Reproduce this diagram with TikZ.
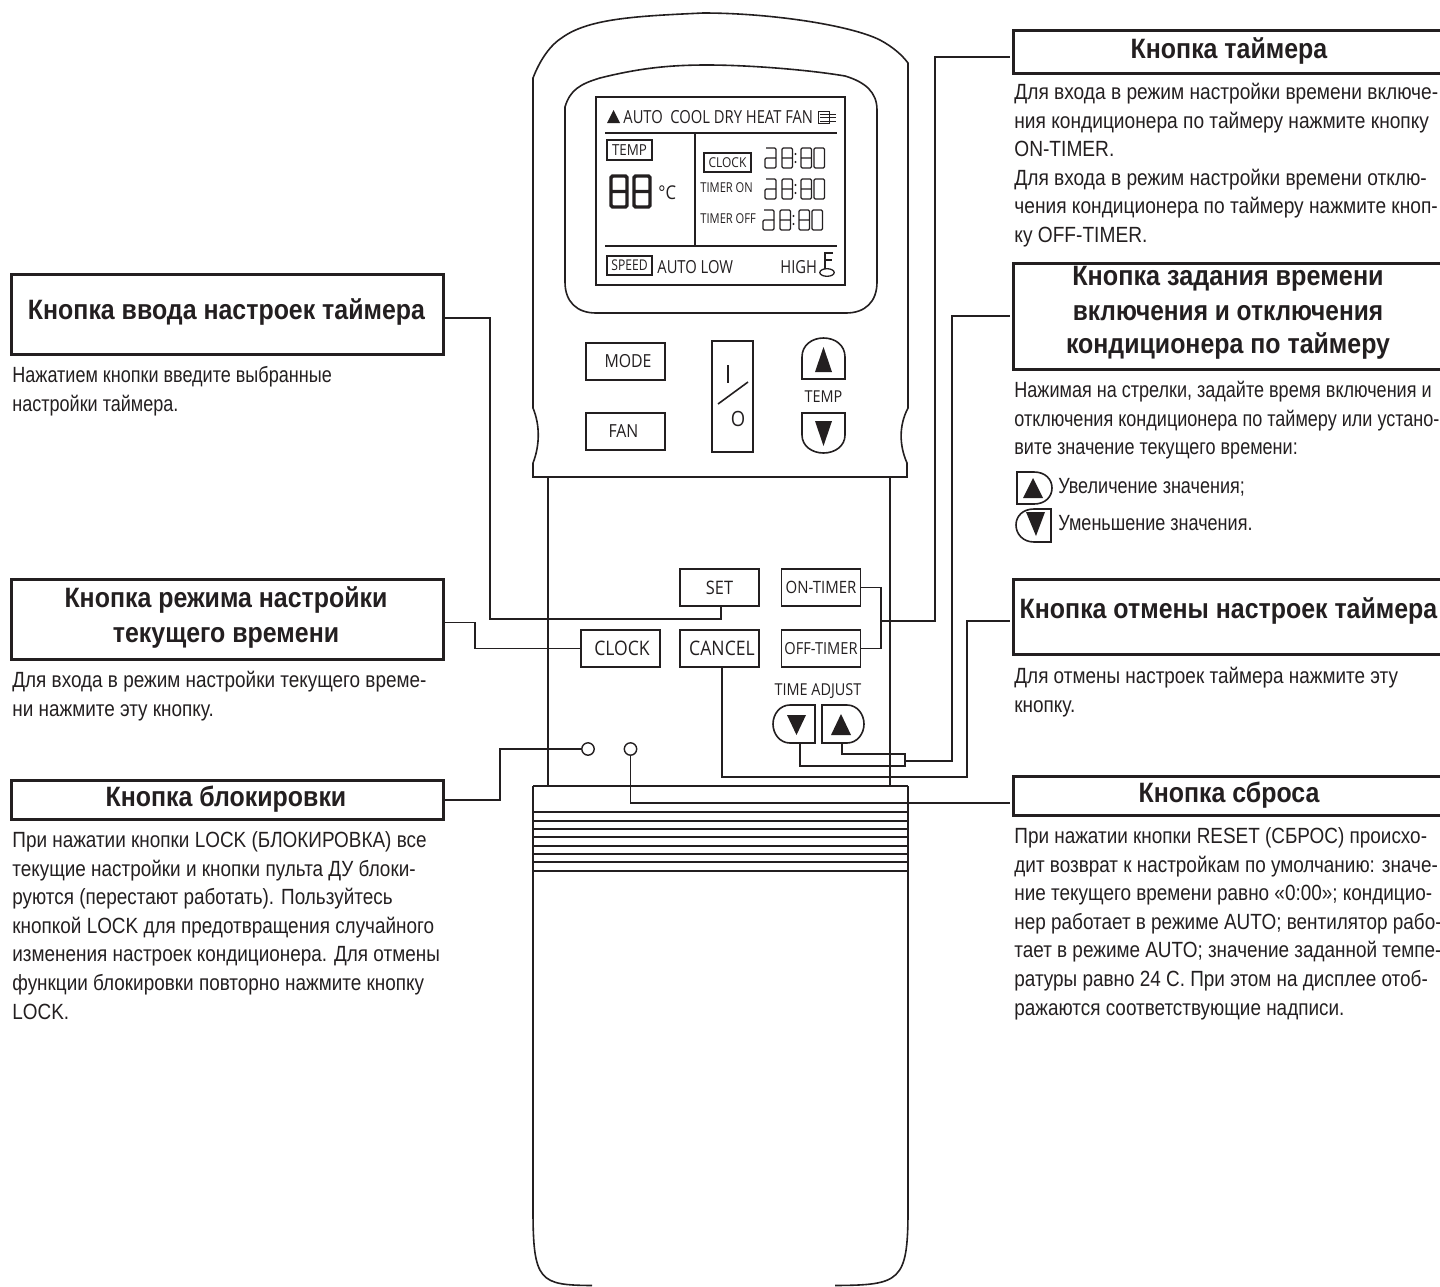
\documentclass[tikz,border=0pt]{standalone}
\usepackage{fontspec}
\setmainfont[FakeStretch=0.86]{Liberation Sans}
\newfontfamily\bodyA[FakeStretch=0.82]{Liberation Sans}
\newfontfamily\bodyB[FakeStretch=0.86]{Liberation Sans}
\newfontfamily\bodyC[FakeStretch=0.87]{Liberation Sans}
\newfontfamily\ttlf[FakeStretch=0.89]{Liberation Sans}
\newfontfamily\ttlw[FakeStretch=0.9]{Liberation Sans}
\newfontfamily\ttln[FakeStretch=0.875]{Liberation Sans}
\newfontfamily\rfont[FakeStretch=0.88]{Open Sans}
\newfontfamily\rcond[FakeStretch=0.82]{Open Sans}
\usetikzlibrary{calc}
\definecolor{ink}{HTML}{231F20}
\newcommand\fl{\rule{0pt}{10pt}}
\newcommand\rsz[1]{\rfont\fontsize{#1}{#1}\selectfont}
\newcommand\csz[1]{\rcond\fontsize{#1}{#1}\selectfont}
\newcommand\bsz{\fontsize{11}{14.3}\selectfont}
\tikzset{
  hbox/.style={draw=ink,line width=1.3pt,fill=white,inner sep=0pt,rectangle},
  ttl/.style={anchor=base,inner sep=0pt,text=ink,font=\ttlf\fontsize{14}{17.5}\selectfont\bfseries},
  ttw/.style={ttl,font=\ttlw\fontsize{14}{17.5}\selectfont\bfseries},
  ttn/.style={ttl,font=\ttln\fontsize{14}{17.5}\selectfont\bfseries},
  bodytxt/.style={anchor=north west,inner sep=0pt,align=left,text=ink,font=\bodyB\bsz},
  bodya/.style={bodytxt,font=\bodyA\bsz},
  bodyc/.style={bodytxt,font=\bodyC\bsz},
  wire/.style={draw=ink,line width=0.8pt},
  outl/.style={draw=ink,line width=0.8pt},
  btn/.style={draw=ink,line width=0.75pt,inner sep=0pt,rectangle,minimum width=39.5pt,minimum height=18.5pt,text=ink,font=\rsz{9}},
  rtxt/.style={inner sep=0pt,text=ink,font=\rsz{8.2}},
  lcdbox/.style={draw=ink,line width=0.6pt,inner sep=0pt,rectangle,text=ink},
  seg/.style={draw=ink,line width=0.6pt,rounded corners=0.6pt},
  segb/.style={draw=ink,line width=1.7pt,rounded corners=0.8pt},
  tri/.style={fill=ink,draw=none},
}
\newcommand\dE[2]{\draw[seg] (#1,#2) rectangle ++(10.5,20) (#1,#2+10) -- ++(10.5,0);}
\newcommand\dO[2]{\draw[seg] (#1,#2) rectangle ++(10.5,20);}
\newcommand\dA[2]{\draw[seg] (#1+1,#2) -- (#1+11,#2) -- (#1+11,#2+20) -- (#1,#2+20) -- (#1,#2+10) -- (#1+11,#2+10);}
\newcommand\dC[2]{\fill[ink] (#1,#2+6) circle (0.55pt) (#1,#2+14) circle (0.55pt);}
\newcommand\timerow[2]{\dA{#1}{#2}\dE{#1+17}{#2}\dC{#1+30.5}{#2}\dE{#1+36}{#2}\dO{#1+49}{#2}}
\begin{document}
\begin{tikzpicture}[x=0.5pt,y=-0.5pt]
\useasboundingbox (0,0) rectangle (1440,1286);
% ---- remote outline
\draw[outl] (533,477) -- (533,463) .. controls (540,445) and (540,425) .. (533,408) -- (533,78)
  .. controls (540,60) and (550,45) .. (563,37) .. controls (590,18) and (640,16) .. (703,13)
  .. controls (770,13) and (850,25) .. (880,40) .. controls (893,47) and (902,55) .. (908,63)
  -- (908,408) .. controls (899,425) and (899,445) .. (907,463) -- (907,477) -- cycle;
\draw[outl] (565,107) .. controls (570,90) and (580,84) .. (600,78) .. controls (640,68) and (670,65) .. (707,65)
  .. controls (750,65) and (810,70) .. (845,76) .. controls (865,82) and (877,92) .. (877,110)
  -- (877,282) .. controls (877,302) and (865,313) .. (846,313) -- (596,313)
  .. controls (577,313) and (565,302) .. (565,282) -- cycle;
\draw[outl] (548,477) -- (548,786) (890,477) -- (890,786);
\draw[outl] (533,786) -- (908,786);
\draw[outl] (592,1285.5) .. controls (540,1285) and (533,1282) .. (533,1210) -- (533,786);
\draw[outl] (835,1285.5) .. controls (900,1285) and (908,1282) .. (908,1210) -- (908,786);
\foreach \yy in {812,821,829,837,846,854,862,871} \draw[outl] (533,\yy) -- (908,\yy);
% ---- LCD
\draw[outl] (596,97) rectangle (845,285);
\draw[outl] (605,133) -- (837,133) (605,246) -- (837,246) (695,133) -- (695,246);
\fill[tri] (607,123) -- (613.5,110) -- (620,123) -- cycle;
\node[rtxt,anchor=base west,font=\csz{9}] (lauto) at (623,123) {AUTO};
\node[rtxt,anchor=base west,font=\csz{9}] (lmodes) at (670,123) {COOL DRY HEAT FAN};
\draw[ink,line width=0.45pt] (818,111) rectangle (829,123.5);
\draw[ink,line width=0.45pt] (820,114) -- (836,114) (820,117.5) -- (836,117.5) (820,121) -- (836,121);
\node[lcdbox,minimum width=22.5pt,minimum height=10pt,font=\rsz{7.6}] (ltemp) at (629.5,150) {TEMP};
\node[lcdbox,minimum width=23.5pt,minimum height=9.5pt,font=\rsz{6.8}] (lclock) at (727.5,162.5) {CLOCK};
\node[lcdbox,minimum width=22.5pt,minimum height=9.5pt,font=\csz{7.4}] (lspeed) at (629.5,265.5) {SPEED};
\draw[segb] (611,176) rectangle (627,207) (611,191.5) -- (627,191.5);
\draw[segb] (634,176) rectangle (650,207) (634,191.5) -- (650,191.5);
\node[rtxt,anchor=west,font=\rsz{9.5}] (ldeg) at (658,193) {°C};
\timerow{765}{148}
\timerow{765}{179}
\timerow{763}{210}
\node[rtxt,anchor=west,font=\csz{6.8}] (lon) at (700,188) {TIMER ON};
\node[rtxt,anchor=west,font=\csz{6.8}] (loff) at (700,219) {TIMER OFF};
\node[rtxt,anchor=base west,font=\csz{9}] (lal) at (657,273) {AUTO LOW};
\node[rtxt,anchor=base west,font=\csz{9}] (lhigh) at (780,273) {HIGH};
\draw[ink,line width=0.65pt] (833,253) -- (825,253) -- (825,269) (825,260) -- (832,260);
\draw[ink,line width=0.65pt] (827,272.5) ellipse (3.6pt and 1.9pt);
% ---- upper buttons
\node[btn] (mode) at (625.5,361.5) {\hspace*{2.5pt}MODE};
\node[btn] (fan) at (625.5,431.5) {\hspace*{-2pt}\raisebox{-1pt}{FAN}};
\draw[outl] (712,341) rectangle (753,452);
\draw[ink,line width=1.3pt] (728,365) -- (728,383);
\draw[outl] (718,404) -- (748,382);
\node[rtxt,font=\rsz{10.5}] (oo) at (738,419) {O};
\draw[outl] (802,379) -- (802,357) .. controls (802,345) and (812,338) .. (823.5,338) .. controls (835,338) and (845,345) .. (845,357) -- (845,379) -- cycle;
\fill[tri] (815,372) -- (823.5,347) -- (832,372) -- cycle;
\node[rtxt] (ltmp) at (823.5,397) {TEMP};
\draw[outl] (802,413) -- (802,435) .. controls (802,446) and (812,453) .. (823.5,453) .. controls (835,453) and (845,446) .. (845,435) -- (845,413) -- cycle;
\fill[tri] (815,421) -- (823.5,446) -- (832,421) -- cycle;
% ---- lower buttons
\node[btn,font=\rsz{9.3}] (set) at (719.5,587.5) {\raisebox{-0.8pt}{SET}};
\node[btn,font=\rsz{8.5}] (ont) at (821,587.5) {ON-TIMER};
\node[btn,font=\rsz{10}] (clock) at (620.5,648.5) {\hspace*{1.5pt}\raisebox{-1.2pt}{CLOCK}};
\node[btn,font=\rsz{10}] (cancel) at (719.5,648.5) {\hspace*{2.5pt}\raisebox{-1.2pt}{CANCEL}};
\node[btn,font=\rsz{8.3}] (offt) at (821,648.5) {OFF-TIMER};
\node[rtxt] (tadj) at (818,691) {TIME ADJUST};
\draw[outl] (815,705) -- (815,743) -- (790,743) .. controls (780,743) and (773,734) .. (773,724) .. controls (773,714) and (780,705) .. (790,705) -- cycle;
\coordinate (tdn) at (800,743);
\fill[tri] (787,715) -- (796.5,735) -- (806,715) -- cycle;
\draw[outl] (822,705) -- (822,743) -- (847,743) .. controls (857,743) and (864,734) .. (864,724) .. controls (864,714) and (857,705) .. (847,705) -- cycle;
\coordinate (tup) at (842,743);
\fill[tri] (831,735) -- (841,714) -- (851,735) -- cycle;
\node[draw=ink,line width=0.7pt,circle,inner sep=0pt,minimum size=6.2pt] (lockb) at (588,749) {};
\node[draw=ink,line width=0.7pt,circle,inner sep=0pt,minimum size=6.2pt] (resetb) at (630.5,749) {};
% ---- header boxes
\node[hbox,minimum width=225pt,minimum height=21.5pt,anchor=north west] (tbT) at (1012,29) {};
\node[hbox,minimum width=225pt,minimum height=53pt,anchor=north west] (tbS) at (1012,262) {};
\node[hbox,minimum width=225pt,minimum height=37.5pt,anchor=north west] (tbC) at (1012,578) {};
\node[hbox,minimum width=225pt,minimum height=19.5pt,anchor=north west] (tbR) at (1012,775) {};
\node[hbox,minimum width=216pt,minimum height=40pt,anchor=north west] (tbI) at (10,273) {};
\node[hbox,minimum width=216pt,minimum height=40pt,anchor=north west] (tbK) at (10,578) {};
\node[hbox,minimum width=216pt,minimum height=19.5pt,anchor=north west] (tbL) at (10,779) {};
\node[ttl] (t1) at (1229,58) {Кнопка таймера};
\node[ttw] (t2a) at (1228,285) {Кнопка задания времени};
\node[ttn] (t2b) at (1228,320) {включения и отключения};
\node[ttl] (t2c) at (1228,353) {кондиционера по таймеру};
\node[ttl] (t3) at (1228.5,618) {Кнопка отмены настроек таймера};
\node[ttl] (t4) at (1229,802) {Кнопка сброса};
\node[ttl] (t5) at (226.5,319) {Кнопка ввода настроек таймера};
\node[ttl] (t6a) at (226,607) {Кнопка режима настройки};
\node[ttl] (t6b) at (226,642) {текущего времени};
\node[ttl] (t7) at (226,806) {Кнопка блокировки};
% ---- body texts
\node[bodyc] (b1) at (1014,79) {\fl Для входа в режим настройки времени включе-\\
ния кондиционера по таймеру нажмите кнопку\\
ON-TIMER.\\
Для входа в режим настройки времени отклю-\\
чения кондиционера по таймеру нажмите кноп-\\
ку OFF-TIMER.};
\node[bodya] (b2) at (1014,377) {\fl Нажимая на стрелки, задайте время включения и\\
отключения кондиционера по таймеру или устано-\\
вите значение текущего времени:};
\node[bodya] (b2a) at (1058,473) {\fl Увеличение значения;};
\node[bodya] (b2b) at (1058,510) {\fl Уменьшение значения.};
\draw[outl] (1017,472) -- (1017,504) -- (1034,504) .. controls (1045,504) and (1052,497) .. (1052,488) .. controls (1052,479) and (1045,472) .. (1034,472) -- cycle;
\fill[tri] (1023,498) -- (1033,478) -- (1043,498) -- cycle;
\draw[outl] (1051,509) -- (1051,542) -- (1034,542) .. controls (1023,542) and (1016,534) .. (1016,525) .. controls (1016,516) and (1023,509) .. (1034,509) -- cycle;
\fill[tri] (1026,512) -- (1036,536) -- (1045,512) -- cycle;
\node[bodytxt] (b3) at (1014,663) {\fl Для отмены настроек таймера нажмите эту\\
кнопку.};
\node[bodytxt] (b4) at (1014,823) {\fl При нажатии кнопки RESET (СБРОС) происхо-\\
дит возврат к настройкам по умолчанию: значе-\\
ние текущего времени равно «0:00»; кондицио-\\
нер работает в режиме AUTO; вентилятор рабо-\\
тает в режиме AUTO; значение заданной темпе-\\
ратуры равно 24 С. При этом на дисплее отоб-\\
ражаются соответствующие надписи.};
\node[bodya] (b5) at (12,362) {\fl Нажатием кнопки введите выбранные\\
настройки таймера.};
\node[bodytxt] (b6) at (12,667) {\fl Для входа в режим настройки текущего време-\\
ни нажмите эту кнопку.};
\node[bodytxt] (b7) at (12,827) {\fl При нажатии кнопки LOCK (БЛОКИРОВКА) все\\
текущие настройки и кнопки пульта ДУ блоки-\\
руются (перестают работать). Пользуйтесь\\
кнопкой LOCK для предотвращения случайного\\
изменения настроек кондиционера. Для отмены\\
функции блокировки повторно нажмите кнопку\\
LOCK.};
% ---- connectors
\coordinate (pT) at (1010,57);
\coordinate (pS) at (1010,316);
\coordinate (pC) at (1010,621);
\coordinate (pR) at (1010,803);
\coordinate (pI) at (442,318);
\coordinate (pK) at (442,622.5);
\coordinate (pL) at (442,800);
\coordinate (jT) at (881,621);
\coordinate (jA) at (905,761);
\draw[wire] (pI) -- (490,318) -- (490,619) -- (721,619) -- ([xshift=0.75pt]set.south);
\draw[wire] (pK) -- (475,622.5) -- (475,648.5) -- (clock.west);
\draw[wire] (lockb.west) -- (500,749) -- (500,800) -- (pL);
\draw[wire] (resetb.south) -- (630.5,803) -- (pR);
\draw[wire] (ont.east) -- (881,587.5) -- (881,648.5) -- (offt.east);
\draw[wire] (jT) -- (935,621) -- (935,57) -- (pT);
\draw[wire] (tdn) -- (800,766) -- (905,766) -- (905,754) -- (842,754) -- (tup);
\draw[wire] (jA) -- (952,761) -- (952,316) -- (pS);
\draw[wire] ([xshift=1.25pt]cancel.south) -- (722,777) -- (967,777) -- (967,621) -- (pC);
\end{tikzpicture}
\end{document}
